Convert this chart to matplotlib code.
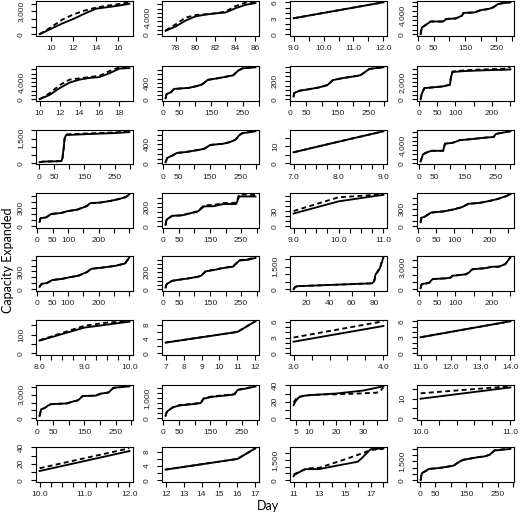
import matplotlib
matplotlib.use('Agg')
import matplotlib.pyplot as plt
import numpy as np

plt.rcParams['font.family'] = ['Liberation Sans', 'DejaVu Sans']

# ---------------- data ----------------
# Row 1
p01_x = [9, 10, 11, 12, 13, 14, 15, 16, 17]
p01_s = [0, 700, 1400, 2000, 2700, 3350, 3550, 3750, 4000]
p01_d = [0, 900, 1900, 2600, 3100, 3500, 3750, 3950, 4200]

p02_x = [77, 78, 79, 80, 81, 82, 83, 84, 85, 86]
p02_s = [800, 1800, 3200, 4200, 4600, 4900, 5100, 6100, 6900, 7300]
p02_d = [900, 2300, 3900, 4500, 4700, 4900, 5300, 6600, 7400, 7500]

p03_x = [9, 10, 11, 12]
p03_s = [3, 4, 5, 6]
p03_d = [3, 4, 5, 6]

p04_x = [8, 12, 20, 35, 40, 80, 90, 120, 140, 145, 180, 200, 225, 240, 255, 270, 295]
p04_s = [0, 1450, 1800, 2500, 2750, 2750, 3300, 3400, 4000, 4600, 4700, 5200, 5450, 5800, 6500, 6700, 6900]
p04_d = p04_s

# Row 2
p05_x = [10, 11, 12, 13, 14, 15, 16, 17, 18, 19]
p05_s = [0, 1000, 2600, 3900, 4600, 5000, 5200, 6100, 7200, 7300]
p05_d = [0, 1400, 3300, 4600, 4900, 5200, 5500, 6600, 7500, 7500]

p06_x = [7, 10, 24, 34, 80, 106, 122, 140, 173, 220, 235, 250, 290]
p06_s = [25, 125, 170, 250, 275, 320, 360, 470, 510, 580, 690, 750, 775]
p06_d = p06_s

p07_x = [10, 12, 30, 60, 92, 118, 136, 165, 216, 226, 252, 297]
p07_s = [30, 68, 94, 110, 130, 155, 210, 230, 257, 268, 332, 350]
p07_d = p07_s

p08_x = [5, 8, 15, 40, 65, 85, 88, 92, 125, 180, 230, 250]
p08_s = [0, 600, 1300, 1400, 1500, 1700, 2600, 3200, 3300, 3400, 3450, 3500]
p08_d = [0, 600, 1300, 1400, 1500, 1700, 2600, 3250, 3400, 3500, 3580, 3750]

# Row 3
p09_x = [3, 15, 60, 75, 78, 82, 85, 90, 150, 250, 298]
p09_s = [60, 100, 120, 130, 300, 900, 1500, 1720, 1770, 1840, 1900]
p09_d = [60, 100, 120, 130, 300, 900, 1500, 1760, 1810, 1880, 1950]

p10_x = [7, 12, 28, 44, 70, 111, 132, 153, 195, 216, 234, 247, 257, 299]
p10_s = [20, 110, 160, 220, 235, 280, 305, 390, 415, 450, 500, 600, 640, 680]
p10_d = p10_s

p11_x = [7, 8, 9]
p11_s = [6.5, 12.8, 19.0]
p11_d = p11_s

p12_x = [5, 13, 24, 40, 79, 85, 110, 134, 167, 222, 245, 252, 300]
p12_s = [400, 2000, 2400, 2800, 2800, 4400, 4600, 5200, 5400, 5800, 5900, 6600, 7200]
p12_d = p12_s

# Row 4
p13_x = [7, 10, 29, 45, 77, 98, 130, 162, 172, 204, 236, 268, 289, 300]
p13_s = [70, 130, 145, 200, 215, 245, 270, 330, 375, 385, 410, 445, 475, 520]
p13_d = p13_s

p14_x = [7, 10, 28, 59, 90, 110, 131, 162, 193, 234, 244, 296]
p14_s = [15, 70, 110, 115, 140, 155, 210, 212, 235, 235, 315, 315]
p14_d = [15, 70, 110, 115, 140, 158, 222, 225, 245, 248, 338, 330]

p15_x = [9, 10, 11]
p15_s = [25, 49, 62]
p15_d = [30, 57, 63]

p16_x = [7, 9, 18, 32, 36, 72, 99, 122, 140, 171, 198, 221, 243, 257]
p16_s = [70, 150, 168, 225, 243, 266, 300, 340, 400, 416, 450, 485, 532, 570]
p16_d = p16_s

# Row 5
p17_x = [8, 14, 32, 49, 81, 103, 135, 162, 176, 211, 254, 286, 300]
p17_s = [40, 90, 105, 155, 175, 200, 230, 290, 345, 365, 395, 435, 540]
p17_d = p17_s

p18_x = [7, 10, 28, 48, 79, 110, 121, 136, 162, 193, 224, 244, 275, 296]
p18_s = [20, 60, 100, 112, 128, 148, 160, 212, 228, 252, 268, 340, 352, 372]
p18_d = [20, 60, 100, 112, 128, 148, 160, 215, 232, 255, 272, 345, 358, 380]

p19_x = [8.7, 10, 12, 78, 80, 81, 83, 85, 86, 88]
p19_s = [0, 150, 200, 390, 540, 980, 1150, 1410, 1630, 2110]
p19_d = [0, 150, 200, 390, 600, 900, 1200, 1350, 1700, 2100]

p20_x = [5, 8, 20, 29, 33, 38, 74, 87, 92, 128, 137, 146, 182, 200, 218, 236, 250]
p20_s = [150, 700, 800, 900, 1150, 1400, 1500, 1600, 1850, 2050, 2300, 2750, 2900, 3100, 3100, 3450, 4400]
p20_d = p20_s

# Row 6
p21_x = [8, 9, 10]
p21_s = [68, 138, 170]
p21_xd = [8, 9, 9.5, 10]
p21_d = [70, 148, 165, 172]

p22_x = [7, 11, 12]
p22_s = [3, 6, 9]
p22_d = p22_s

p23_x = [3, 4]
p23_s = [2.2, 5.2]
p23_d = [3.0, 6.1]

p24_x = [11, 12, 13, 14]
p24_s = [3, 4, 5, 6]
p24_d = p24_s

# Row 7
p25_x = [7, 12, 23, 33, 43, 94, 110, 130, 145, 186, 202, 227, 243, 294]
p25_s = [300, 1150, 1300, 1600, 1800, 1900, 2100, 2300, 2850, 2900, 3150, 3300, 3900, 4100]
p25_d = p25_s

p26_x = [7, 10, 15, 31, 52, 72, 103, 119, 129, 155, 206, 227, 237, 268, 294]
p26_s = [120, 290, 380, 550, 640, 670, 720, 760, 980, 1070, 1150, 1190, 1410, 1500, 1590]
p26_d = [120, 290, 380, 550, 660, 690, 740, 780, 1000, 1090, 1170, 1210, 1430, 1520, 1600]

p27_x = [4.2, 5, 6, 7.5, 10, 20, 30, 37.5]
p27_s = [16, 21, 25, 27, 28, 30, 33.6, 38.8]
p27_xd = [4.2, 5, 6, 10, 16, 20, 28, 35, 36.5, 37.5]
p27_d = [19, 23, 26, 28, 29, 29, 30, 31, 33.6, 37.6]

p28_x = [10, 11]
p28_s = [10, 15.8]
p28_d = [12.8, 16.4]

# Row 8
p29_x = [10, 12]
p29_s = [11.2, 35.4]
p29_d = [14.6, 38.8]

p30_x = [12, 16, 17]
p30_s = [3, 6, 9]
p30_d = p30_s

p31_x = [11, 11.1, 11.75, 12, 13, 13.5, 16, 16.3, 17, 18]
p31_s = [300, 425, 750, 825, 825, 925, 1375, 1625, 2300, 2375]
p31_xd = [11, 12, 13, 15, 16.5, 17, 18]
p31_d = [425, 875, 925, 1550, 2050, 2250, 2325]

p32_x = [3, 6, 8, 24, 29, 61, 82, 108, 129, 140, 187, 208, 224, 240, 261, 291]
p32_s = [0, 450, 580, 800, 900, 970, 1050, 1160, 1500, 1630, 1840, 1900, 2030, 2370, 2420, 2500]
p32_d = [0, 450, 580, 800, 900, 970, 1050, 1160, 1500, 1630, 1840, 1900, 2030, 2400, 2450, 2550]

# ---------------- axis tick specs ----------------
def seq(a, b, step):
    return [round(v, 6) for v in np.arange(a, b + step / 2, step)]

DAY300 = (seq(0, 300, 50), [0, 50, 150, 250], 0)
DAY300B = (seq(0, 300, 50), [0, 50, 100, 200], 0)
DAY250 = (seq(0, 250, 50), [0, 50, 100, 200], 0)

panels = [
    # x, solid, xd, dashed, (xticks, xshown, xdec), (yticks, yshown)
    (p01_x, p01_s, p01_x, p01_d, (seq(10, 16, 2), seq(10, 16, 2), 0), (seq(0, 4000, 1000), [0, 3000])),
    (p02_x, p02_s, p02_x, p02_d, (seq(78, 86, 2), seq(78, 86, 2), 0), (seq(0, 7000, 1000), [0, 4000])),
    (p03_x, p03_s, p03_x, p03_d, (seq(9, 12, 0.5), [9, 10, 11, 12], 1), (seq(0, 6, 1), [0, 3, 6])),
    (p04_x, p04_s, p04_x, p04_d, DAY300, (seq(0, 7000, 1000), [0, 4000])),
    (p05_x, p05_s, p05_x, p05_d, (seq(10, 18, 2), seq(10, 18, 2), 0), (seq(0, 7000, 1000), [0, 4000])),
    (p06_x, p06_s, p06_x, p06_d, DAY300, (seq(0, 700, 100), [0, 400])),
    (p07_x, p07_s, p07_x, p07_d, DAY300, (seq(0, 350, 50), [0, 200])),
    (p08_x, p08_s, p08_x, p08_d, DAY250, (seq(0, 3500, 500), [0, 2000])),
    (p09_x, p09_s, p09_x, p09_d, DAY300, (seq(0, 2000, 500), [0, 1500])),
    (p10_x, p10_s, p10_x, p10_d, DAY300, (seq(0, 700, 100), [0, 400])),
    (p11_x, p11_s, p11_x, p11_d, (seq(7, 9, 0.25), [7, 8, 9], 1), (seq(0, 15, 5), [0, 10])),
    (p12_x, p12_s, p12_x, p12_d, DAY300, (seq(0, 7000, 1000), [0, 4000])),
    (p13_x, p13_s, p13_x, p13_d, DAY300B, (seq(0, 500, 100), [0, 300])),
    (p14_x, p14_s, p14_x, p14_d, DAY300, (seq(0, 300, 50), [0, 200])),
    (p15_x, p15_s, p15_x, p15_d, (seq(9, 11, 0.25), [9, 10, 11], 1), (seq(0, 60, 10), [0, 30])),
    (p16_x, p16_s, p16_x, p16_d, DAY250, (seq(0, 500, 100), [0, 300])),
    (p17_x, p17_s, p17_x, p17_d, DAY300B, (seq(0, 500, 100), [0, 300])),
    (p18_x, p18_s, p18_x, p18_d, DAY300, (seq(0, 350, 50), [0, 200])),
    (p19_x, p19_s, p19_x, p19_d, (seq(20, 80, 20), seq(20, 80, 20), 0), (seq(0, 2000, 500), [0, 1500])),
    (p20_x, p20_s, p20_x, p20_d, DAY250, (seq(0, 4000, 1000), [0, 3000])),
    (p21_x, p21_s, p21_xd, p21_d, (seq(8, 10, 0.25), [8, 9, 10], 1), (seq(0, 150, 50), [0, 100])),
    (p22_x, p22_s, p22_x, p22_d, (seq(7, 12, 1), seq(7, 12, 1), 0), (seq(0, 8, 2), [0, 4, 8])),
    (p23_x, p23_s, p23_x, p23_d, (seq(3, 4, 0.2), [3, 4], 1), (seq(0, 6, 1), [0, 3, 6])),
    (p24_x, p24_s, p24_x, p24_d, (seq(11, 14, 0.5), [11, 12, 13, 14], 1), (seq(0, 6, 1), [0, 3, 6])),
    (p25_x, p25_s, p25_x, p25_d, DAY300, (seq(0, 4000, 1000), [0, 3000])),
    (p26_x, p26_s, p26_x, p26_d, DAY300, (seq(0, 1500, 250), [0, 1000])),
    (p27_x, p27_s, p27_xd, p27_d, (seq(5, 35, 5), [5, 10, 20, 30], 0), (seq(0, 40, 10), [0, 20, 40])),
    (p28_x, p28_s, p28_x, p28_d, (seq(10, 11, 0.2), [10, 11], 1), (seq(0, 15, 5), [0, 10])),
    (p29_x, p29_s, p29_x, p29_d, (seq(10, 12, 0.25), [10, 11, 12], 1), (seq(0, 40, 10), [0, 20, 40])),
    (p30_x, p30_s, p30_x, p30_d, (seq(12, 17, 1), seq(12, 17, 1), 0), (seq(0, 8, 2), [0, 4, 8])),
    (p31_x, p31_s, p31_xd, p31_d, (seq(11, 18, 1), [11, 13, 15, 17], 0), (seq(0, 2000, 500), [0, 1500])),
    (p32_x, p32_s, p32_x, p32_d, DAY300, (seq(0, 2500, 500), [0, 1500])),
]

# ---------------- layout (pixels) ----------------
W, H = 520, 517
COL_LEFT = [36, 162, 290, 417]
ROW_TOP = [1, 66, 130, 193, 256, 320, 385, 447]
BOX_W, BOX_H = 97, 34.5


def fmt(v, dec):
    if dec == 0:
        return f"{int(round(v)):,}"
    return f"{v:.{dec}f}"


fig = plt.figure(figsize=(W / 100, H / 100), dpi=100)

for i, (x, s, xd, d, xspec, yspec) in enumerate(panels):
    r, c = divmod(i, 4)
    left = COL_LEFT[c] / W
    bottom = 1 - (ROW_TOP[r] + BOX_H) / H
    ax = fig.add_axes([left, bottom, BOX_W / W, BOX_H / H])
    ax.plot(x, s, color='black', lw=1.35, solid_joinstyle='round')
    ax.plot(xd, d, color='black', lw=1.35, ls=(0, (2.6, 1.8)))

    xmin = min(min(x), min(xd))
    xmax = max(max(x), max(xd))
    rx = xmax - xmin
    ax.set_xlim(xmin - 0.04 * rx, xmax + 0.04 * rx)
    ymax = max(max(s), max(d))
    ax.set_ylim(-0.04 * ymax, 1.04 * ymax)

    xt, xshown, xdec = xspec
    ax.set_xticks(xt)
    ax.set_xticklabels([fmt(v, xdec) if any(abs(v - u) < 1e-9 for u in xshown) else '' for v in xt])
    yt, yshown = yspec
    ax.set_yticks(yt)
    ax.set_yticklabels([fmt(v, 0) if v in yshown else '' for v in yt],
                       rotation=90, va='center')

    ax.tick_params(axis='both', direction='out', length=3.5, width=0.8,
                   labelsize=6.0, colors='black', labelcolor='#222222')
    ax.tick_params(axis='x', pad=3.5)
    ax.tick_params(axis='y', pad=4.5)
    for sp in ax.spines.values():
        sp.set_linewidth(0.8)
        sp.set_color('black')

fig.text(8 / W, 1 - 260 / H, 'Capacity Expanded', rotation=90, ha='center', va='center',
         fontsize=9, family=['Lato', 'DejaVu Sans'])
fig.text(268 / W, 1 - 506 / H, 'Day', ha='center', va='center',
         fontsize=9, family=['Lato', 'DejaVu Sans'])

fig.savefig('out.png', dpi=100)
